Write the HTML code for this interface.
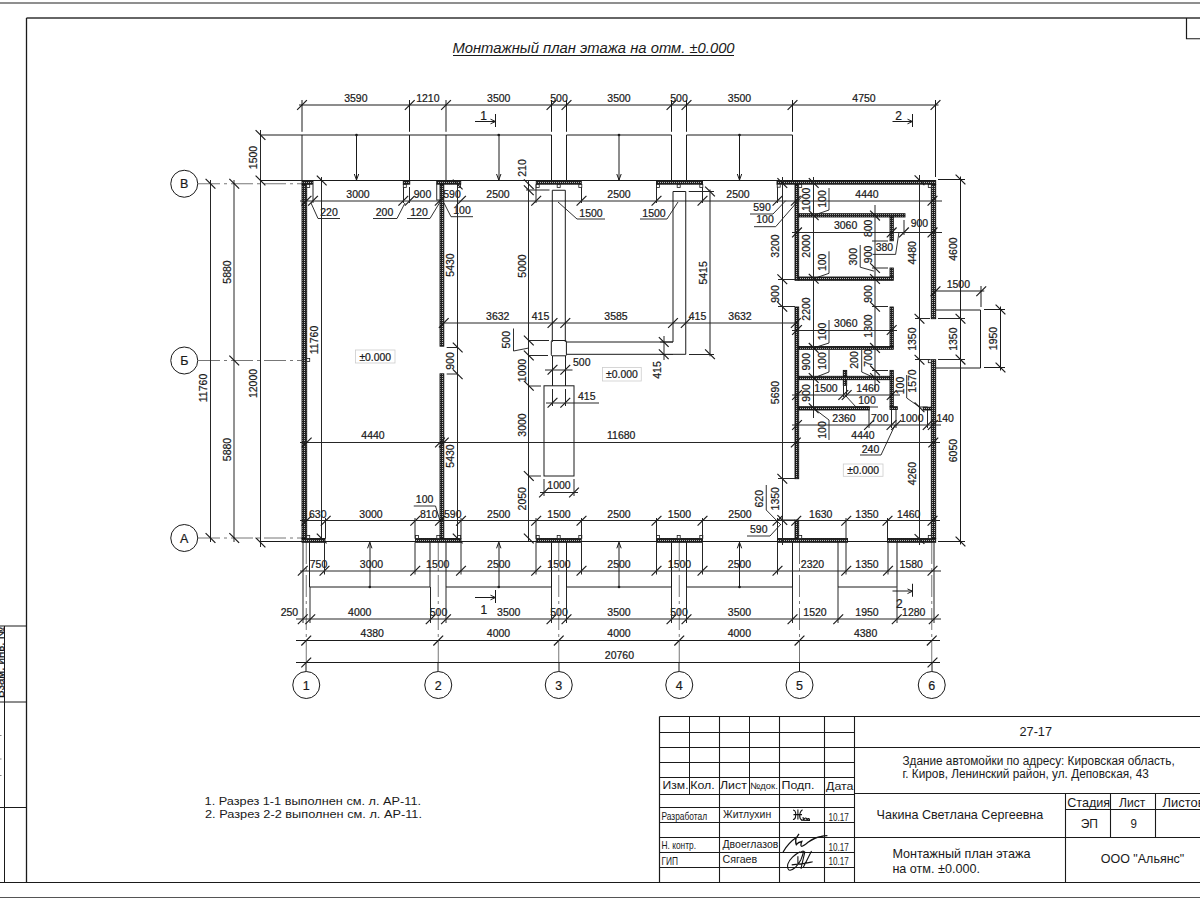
<!DOCTYPE html>
<html><head><meta charset="utf-8"><style>
html,body{margin:0;padding:0;background:#fff;width:1200px;height:900px;overflow:hidden}
svg{display:block;font-family:"Liberation Sans",sans-serif}
text{stroke:#1a1a1a;stroke-width:0.22px}
</style></head><body>
<svg width="1200" height="900" viewBox="0 0 1200 900">
<defs><pattern id="h" width="2" height="2" patternUnits="userSpaceOnUse"><rect width="2" height="2" fill="#222"/><rect x="0" y="0" width="1" height="1" fill="#bbb"/></pattern></defs>
<rect width="1200" height="900" fill="#fff"/>
<line x1="0" y1="3.0" x2="1200" y2="3.0" stroke="#6a6a6a" stroke-width="1.3"/>
<line x1="26.5" y1="18.0" x2="1200" y2="18.0" stroke="#333" stroke-width="1.4"/>
<line x1="26.5" y1="18" x2="26.5" y2="882.5" stroke="#1a1a1a" stroke-width="1.3"/>
<line x1="0" y1="882.5" x2="1200" y2="882.5" stroke="#1a1a1a" stroke-width="1.2"/>
<line x1="0" y1="897.5" x2="1200" y2="897.5" stroke="#555" stroke-width="1.2"/>
<polyline points="1186.5,18 1186.5,38.75 1200,38.75" fill="none" stroke="#1a1a1a" stroke-width="1.2"/>
<line x1="4.5" y1="626" x2="4.5" y2="882.5" stroke="#1a1a1a" stroke-width="1.0"/>
<line x1="0" y1="626.0" x2="26.5" y2="626.0" stroke="#1a1a1a" stroke-width="1.0"/>
<line x1="0" y1="702.0" x2="26.5" y2="702.0" stroke="#1a1a1a" stroke-width="1.0"/>
<line x1="0" y1="807.5" x2="26.5" y2="807.5" stroke="#1a1a1a" stroke-width="1.0"/>
<text x="0" y="0" font-size="10.5" fill="#111" textLength="71" lengthAdjust="spacingAndGlyphs" transform="translate(4.2,698) rotate(-90)">Взам. инв. №</text>
<line x1="0" y1="735.5" x2="1.5" y2="735.5" stroke="#888" stroke-width="1.2"/>
<line x1="0" y1="759.0" x2="1.5" y2="759.0" stroke="#888" stroke-width="1.2"/>
<line x1="0" y1="775.5" x2="1.5" y2="775.5" stroke="#888" stroke-width="1.2"/>
<text x="593.5" y="52.5" font-size="14.8" text-anchor="middle" fill="#1a1a1a" font-style="italic" style="stroke:none">Монтажный план этажа на отм. ±0.000</text>
<line x1="453" y1="55.5" x2="734" y2="55.5" stroke="#1a1a1a" stroke-width="1"/>
<circle cx="184.25" cy="183.75" r="13.5" fill="none" stroke="#1a1a1a" stroke-width="1"/>
<text x="184.25" y="188.25" font-size="12.5" text-anchor="middle" fill="#1a1a1a">В</text>
<line x1="198" y1="183.75" x2="302" y2="183.75" stroke="#777" stroke-width="1" stroke-dasharray="22,4,3,4"/>
<circle cx="184.25" cy="360.5" r="13.5" fill="none" stroke="#1a1a1a" stroke-width="1"/>
<text x="184.25" y="365.0" font-size="12.5" text-anchor="middle" fill="#1a1a1a">Б</text>
<line x1="198" y1="360.5" x2="302" y2="360.5" stroke="#777" stroke-width="1" stroke-dasharray="22,4,3,4"/>
<circle cx="184.25" cy="538" r="13.5" fill="none" stroke="#1a1a1a" stroke-width="1"/>
<text x="184.25" y="542.5" font-size="12.5" text-anchor="middle" fill="#1a1a1a">А</text>
<line x1="198" y1="538" x2="302" y2="538" stroke="#777" stroke-width="1" stroke-dasharray="22,4,3,4"/>
<circle cx="306.25" cy="685" r="13.5" fill="none" stroke="#1a1a1a" stroke-width="1"/>
<text x="306.25" y="689.5" font-size="12.5" text-anchor="middle" fill="#1a1a1a">1</text>
<line x1="306.0" y1="662" x2="306.0" y2="671.5" stroke="#1a1a1a" stroke-width="1.0"/>
<line x1="306.25" y1="542" x2="306.25" y2="662" stroke="#777" stroke-width="1" stroke-dasharray="22,4,3,4"/>
<circle cx="438.25" cy="685" r="13.5" fill="none" stroke="#1a1a1a" stroke-width="1"/>
<text x="438.25" y="689.5" font-size="12.5" text-anchor="middle" fill="#1a1a1a">2</text>
<line x1="438.0" y1="662" x2="438.0" y2="671.5" stroke="#1a1a1a" stroke-width="1.0"/>
<line x1="438.25" y1="542" x2="438.25" y2="662" stroke="#777" stroke-width="1" stroke-dasharray="22,4,3,4"/>
<circle cx="558.75" cy="685" r="13.5" fill="none" stroke="#1a1a1a" stroke-width="1"/>
<text x="558.75" y="689.5" font-size="12.5" text-anchor="middle" fill="#1a1a1a">3</text>
<line x1="559.0" y1="662" x2="559.0" y2="671.5" stroke="#1a1a1a" stroke-width="1.0"/>
<line x1="558.75" y1="542" x2="558.75" y2="662" stroke="#777" stroke-width="1" stroke-dasharray="22,4,3,4"/>
<circle cx="679.25" cy="685" r="13.5" fill="none" stroke="#1a1a1a" stroke-width="1"/>
<text x="679.25" y="689.5" font-size="12.5" text-anchor="middle" fill="#1a1a1a">4</text>
<line x1="679.0" y1="662" x2="679.0" y2="671.5" stroke="#1a1a1a" stroke-width="1.0"/>
<line x1="679.25" y1="542" x2="679.25" y2="662" stroke="#777" stroke-width="1" stroke-dasharray="22,4,3,4"/>
<circle cx="799.5" cy="685" r="13.5" fill="none" stroke="#1a1a1a" stroke-width="1"/>
<text x="799.5" y="689.5" font-size="12.5" text-anchor="middle" fill="#1a1a1a">5</text>
<line x1="799.5" y1="662" x2="799.5" y2="671.5" stroke="#1a1a1a" stroke-width="1.0"/>
<line x1="799.5" y1="542" x2="799.5" y2="662" stroke="#777" stroke-width="1" stroke-dasharray="22,4,3,4"/>
<circle cx="931.75" cy="685" r="13.5" fill="none" stroke="#1a1a1a" stroke-width="1"/>
<text x="931.75" y="689.5" font-size="12.5" text-anchor="middle" fill="#1a1a1a">6</text>
<line x1="932.0" y1="662" x2="932.0" y2="671.5" stroke="#1a1a1a" stroke-width="1.0"/>
<line x1="931.75" y1="542" x2="931.75" y2="662" stroke="#777" stroke-width="1" stroke-dasharray="22,4,3,4"/>
<rect x="302" y="180.5" width="11" height="3.6999999999999886" fill="url(#h)" stroke="#111" stroke-width="0.9"/>
<rect x="403.3" y="180.5" width="6.449999999999989" height="3.6999999999999886" fill="url(#h)" stroke="#111" stroke-width="0.9"/>
<rect x="436.75" y="180.5" width="24.0" height="3.6999999999999886" fill="url(#h)" stroke="#111" stroke-width="0.9"/>
<rect x="536.25" y="180.5" width="45.0" height="3.6999999999999886" fill="url(#h)" stroke="#111" stroke-width="0.9"/>
<rect x="656.5" y="180.5" width="46.0" height="3.6999999999999886" fill="url(#h)" stroke="#111" stroke-width="0.9"/>
<rect x="777" y="180.5" width="158.70000000000005" height="3.6999999999999886" fill="url(#h)" stroke="#111" stroke-width="0.9"/>
<rect x="302" y="538.5" width="23" height="3.7999999999999545" fill="url(#h)" stroke="#111" stroke-width="0.9"/>
<rect x="415.5" y="538.5" width="45.5" height="3.7999999999999545" fill="url(#h)" stroke="#111" stroke-width="0.9"/>
<rect x="536.25" y="538.5" width="45.0" height="3.7999999999999545" fill="url(#h)" stroke="#111" stroke-width="0.9"/>
<rect x="656.5" y="538.5" width="46.0" height="3.7999999999999545" fill="url(#h)" stroke="#111" stroke-width="0.9"/>
<rect x="777.5" y="538.5" width="70.0" height="3.7999999999999545" fill="url(#h)" stroke="#111" stroke-width="0.9"/>
<rect x="887.5" y="538.5" width="48.200000000000045" height="3.7999999999999545" fill="url(#h)" stroke="#111" stroke-width="0.9"/>
<rect x="302" y="184.5" width="4.699999999999989" height="354.0" fill="url(#h)" stroke="#111" stroke-width="0.9"/>
<rect x="440" y="184.5" width="3.8000000000000114" height="161.7" fill="url(#h)" stroke="#111" stroke-width="0.9"/>
<rect x="440" y="373.8" width="3.8000000000000114" height="164.7" fill="url(#h)" stroke="#111" stroke-width="0.9"/>
<rect x="795" y="184.5" width="3.7000000000000455" height="95.80000000000001" fill="url(#h)" stroke="#111" stroke-width="0.9"/>
<rect x="795" y="307" width="3.7000000000000455" height="171.7" fill="url(#h)" stroke="#111" stroke-width="0.9"/>
<rect x="795" y="520" width="3.7000000000000455" height="18.5" fill="url(#h)" stroke="#111" stroke-width="0.9"/>
<rect x="931.3" y="184.5" width="4.400000000000091" height="134.2" fill="url(#h)" stroke="#111" stroke-width="0.9"/>
<rect x="931.3" y="359.7" width="4.400000000000091" height="178.8" fill="url(#h)" stroke="#111" stroke-width="0.9"/>
<rect x="798.7" y="213.7" width="106.29999999999995" height="3.3000000000000114" fill="url(#h)" stroke="#111" stroke-width="0.9"/>
<rect x="890" y="217" width="3.2999999999999545" height="23.80000000000001" fill="url(#h)" stroke="#111" stroke-width="0.9"/>
<rect x="890" y="268" width="3.2999999999999545" height="9" fill="url(#h)" stroke="#111" stroke-width="0.9"/>
<rect x="798.7" y="277" width="94.59999999999991" height="3.3000000000000114" fill="url(#h)" stroke="#111" stroke-width="0.9"/>
<rect x="890" y="307" width="3.2999999999999545" height="39.5" fill="url(#h)" stroke="#111" stroke-width="0.9"/>
<rect x="798.7" y="346.5" width="94.59999999999991" height="2.8000000000000114" fill="url(#h)" stroke="#111" stroke-width="0.9"/>
<rect x="798.7" y="376.3" width="94.59999999999991" height="3.3999999999999773" fill="url(#h)" stroke="#111" stroke-width="0.9"/>
<rect x="890" y="370.4" width="3.2999999999999545" height="36.30000000000001" fill="url(#h)" stroke="#111" stroke-width="0.9"/>
<rect x="890" y="406.7" width="7.2999999999999545" height="2.8000000000000114" fill="url(#h)" stroke="#111" stroke-width="0.9"/>
<rect x="843.3" y="370.4" width="3.400000000000091" height="5.900000000000034" fill="url(#h)" stroke="#111" stroke-width="0.9"/>
<rect x="843.3" y="379.7" width="3.400000000000091" height="5.600000000000023" fill="url(#h)" stroke="#111" stroke-width="0.9"/>
<rect x="798.7" y="406.7" width="70.59999999999991" height="3.3000000000000114" fill="url(#h)" stroke="#111" stroke-width="0.9"/>
<rect x="923.3" y="407.2" width="8.0" height="2.8000000000000114" fill="url(#h)" stroke="#111" stroke-width="0.9"/>
<line x1="302" y1="135.0" x2="551.5" y2="135.0" stroke="#1a1a1a" stroke-width="1.0"/>
<line x1="566.5" y1="135.0" x2="671.5" y2="135.0" stroke="#1a1a1a" stroke-width="1.0"/>
<line x1="686.5" y1="135.0" x2="792.5" y2="135.0" stroke="#1a1a1a" stroke-width="1.0"/>
<line x1="260" y1="180.5" x2="302" y2="180.5" stroke="#1a1a1a" stroke-width="1.0"/>
<line x1="302" y1="180.5" x2="935.7" y2="180.5" stroke="#1a1a1a" stroke-width="1.0"/>
<line x1="302.0" y1="100" x2="302.0" y2="131.8" stroke="#1a1a1a" stroke-width="1.0"/>
<line x1="302.0" y1="135" x2="302.0" y2="180.2" stroke="#1a1a1a" stroke-width="1.0"/>
<line x1="409.5" y1="100" x2="409.5" y2="131.8" stroke="#1a1a1a" stroke-width="1.0"/>
<line x1="409.5" y1="135" x2="409.5" y2="180.2" stroke="#1a1a1a" stroke-width="1.0"/>
<line x1="446.0" y1="100" x2="446.0" y2="131.8" stroke="#1a1a1a" stroke-width="1.0"/>
<line x1="446.0" y1="135" x2="446.0" y2="180.2" stroke="#1a1a1a" stroke-width="1.0"/>
<line x1="551.5" y1="100" x2="551.5" y2="131.8" stroke="#1a1a1a" stroke-width="1.0"/>
<line x1="551.5" y1="135" x2="551.5" y2="180.2" stroke="#1a1a1a" stroke-width="1.0"/>
<line x1="566.5" y1="100" x2="566.5" y2="131.8" stroke="#1a1a1a" stroke-width="1.0"/>
<line x1="566.5" y1="135" x2="566.5" y2="180.2" stroke="#1a1a1a" stroke-width="1.0"/>
<line x1="671.5" y1="100" x2="671.5" y2="131.8" stroke="#1a1a1a" stroke-width="1.0"/>
<line x1="671.5" y1="135" x2="671.5" y2="180.2" stroke="#1a1a1a" stroke-width="1.0"/>
<line x1="686.5" y1="100" x2="686.5" y2="131.8" stroke="#1a1a1a" stroke-width="1.0"/>
<line x1="686.5" y1="135" x2="686.5" y2="180.2" stroke="#1a1a1a" stroke-width="1.0"/>
<line x1="792.5" y1="100" x2="792.5" y2="131.8" stroke="#1a1a1a" stroke-width="1.0"/>
<line x1="792.5" y1="135" x2="792.5" y2="180.2" stroke="#1a1a1a" stroke-width="1.0"/>
<line x1="935.5" y1="100" x2="935.5" y2="177" stroke="#1a1a1a" stroke-width="1.0"/>
<circle cx="356.5" cy="135" r="1.3" fill="#1a1a1a"/>
<line x1="356.5" y1="135" x2="356.5" y2="180" stroke="#1a1a1a" stroke-width="1.0"/>
<polyline points="354.3,174 356.5,180 358.7,174" fill="none" stroke="#1a1a1a" stroke-width="1.0"/>
<circle cx="498.75" cy="135" r="1.3" fill="#1a1a1a"/>
<line x1="499.0" y1="135" x2="499.0" y2="180" stroke="#1a1a1a" stroke-width="1.0"/>
<polyline points="496.55,174 498.75,180 500.95,174" fill="none" stroke="#1a1a1a" stroke-width="1.0"/>
<circle cx="619" cy="135" r="1.3" fill="#1a1a1a"/>
<line x1="619.0" y1="135" x2="619.0" y2="180" stroke="#1a1a1a" stroke-width="1.0"/>
<polyline points="616.8,174 619,180 621.2,174" fill="none" stroke="#1a1a1a" stroke-width="1.0"/>
<circle cx="739.5" cy="135" r="1.3" fill="#1a1a1a"/>
<line x1="739.5" y1="135" x2="739.5" y2="180" stroke="#1a1a1a" stroke-width="1.0"/>
<polyline points="737.3,174 739.5,180 741.7,174" fill="none" stroke="#1a1a1a" stroke-width="1.0"/>
<line x1="299" y1="105.0" x2="938.5" y2="105.0" stroke="#1a1a1a" stroke-width="1.0"/>
<line x1="297.1" y1="109.9" x2="306.9" y2="100.1" stroke="#1a1a1a" stroke-width="1.2"/>
<line x1="404.85" y1="109.9" x2="414.65" y2="100.1" stroke="#1a1a1a" stroke-width="1.2"/>
<line x1="441.1" y1="109.9" x2="450.9" y2="100.1" stroke="#1a1a1a" stroke-width="1.2"/>
<line x1="546.6" y1="109.9" x2="556.4" y2="100.1" stroke="#1a1a1a" stroke-width="1.2"/>
<line x1="561.6" y1="109.9" x2="571.4" y2="100.1" stroke="#1a1a1a" stroke-width="1.2"/>
<line x1="666.6" y1="109.9" x2="676.4" y2="100.1" stroke="#1a1a1a" stroke-width="1.2"/>
<line x1="681.6" y1="109.9" x2="691.4" y2="100.1" stroke="#1a1a1a" stroke-width="1.2"/>
<line x1="787.6" y1="109.9" x2="797.4" y2="100.1" stroke="#1a1a1a" stroke-width="1.2"/>
<line x1="930.6" y1="109.9" x2="940.4" y2="100.1" stroke="#1a1a1a" stroke-width="1.2"/>
<text x="355.875" y="101.7" font-size="10.5" text-anchor="middle" fill="#1a1a1a">3590</text>
<text x="427.875" y="101.7" font-size="10.5" text-anchor="middle" fill="#1a1a1a">1210</text>
<text x="498.75" y="101.7" font-size="10.5" text-anchor="middle" fill="#1a1a1a">3500</text>
<text x="559.0" y="101.7" font-size="10.5" text-anchor="middle" fill="#1a1a1a">500</text>
<text x="619.0" y="101.7" font-size="10.5" text-anchor="middle" fill="#1a1a1a">3500</text>
<text x="679.0" y="101.7" font-size="10.5" text-anchor="middle" fill="#1a1a1a">500</text>
<text x="739.5" y="101.7" font-size="10.5" text-anchor="middle" fill="#1a1a1a">3500</text>
<text x="864.0" y="101.7" font-size="10.5" text-anchor="middle" fill="#1a1a1a">4750</text>
<line x1="260" y1="541.5" x2="935.7" y2="541.5" stroke="#1a1a1a" stroke-width="1.0"/>
<line x1="309.5" y1="587.0" x2="430" y2="587.0" stroke="#1a1a1a" stroke-width="1.0"/>
<line x1="309.5" y1="542.3" x2="309.5" y2="587" stroke="#1a1a1a" stroke-width="1.0"/>
<line x1="430.0" y1="542.3" x2="430.0" y2="587" stroke="#1a1a1a" stroke-width="1.0"/>
<line x1="446" y1="587.0" x2="551.5" y2="587.0" stroke="#1a1a1a" stroke-width="1.0"/>
<line x1="446.0" y1="542.3" x2="446.0" y2="587" stroke="#1a1a1a" stroke-width="1.0"/>
<line x1="551.5" y1="542.3" x2="551.5" y2="587" stroke="#1a1a1a" stroke-width="1.0"/>
<line x1="566.5" y1="587.0" x2="671.5" y2="587.0" stroke="#1a1a1a" stroke-width="1.0"/>
<line x1="566.5" y1="542.3" x2="566.5" y2="587" stroke="#1a1a1a" stroke-width="1.0"/>
<line x1="671.5" y1="542.3" x2="671.5" y2="587" stroke="#1a1a1a" stroke-width="1.0"/>
<line x1="686.5" y1="587.0" x2="792.5" y2="587.0" stroke="#1a1a1a" stroke-width="1.0"/>
<line x1="686.5" y1="542.3" x2="686.5" y2="587" stroke="#1a1a1a" stroke-width="1.0"/>
<line x1="792.5" y1="542.3" x2="792.5" y2="587" stroke="#1a1a1a" stroke-width="1.0"/>
<line x1="838" y1="587.0" x2="896.75" y2="587.0" stroke="#1a1a1a" stroke-width="1.0"/>
<line x1="838.0" y1="542.3" x2="838.0" y2="587" stroke="#1a1a1a" stroke-width="1.0"/>
<line x1="897.0" y1="542.3" x2="897.0" y2="587" stroke="#1a1a1a" stroke-width="1.0"/>
<circle cx="369.75" cy="587" r="1.3" fill="#1a1a1a"/>
<line x1="370.0" y1="542.3" x2="370.0" y2="587" stroke="#1a1a1a" stroke-width="1.0"/>
<polyline points="367.55,548.3 369.75,542.3 371.95,548.3" fill="none" stroke="#1a1a1a" stroke-width="1.0"/>
<circle cx="498.75" cy="587" r="1.3" fill="#1a1a1a"/>
<line x1="499.0" y1="542.3" x2="499.0" y2="587" stroke="#1a1a1a" stroke-width="1.0"/>
<polyline points="496.55,548.3 498.75,542.3 500.95,548.3" fill="none" stroke="#1a1a1a" stroke-width="1.0"/>
<circle cx="619" cy="587" r="1.3" fill="#1a1a1a"/>
<line x1="619.0" y1="542.3" x2="619.0" y2="587" stroke="#1a1a1a" stroke-width="1.0"/>
<polyline points="616.8,548.3 619,542.3 621.2,548.3" fill="none" stroke="#1a1a1a" stroke-width="1.0"/>
<circle cx="739.5" cy="587" r="1.3" fill="#1a1a1a"/>
<line x1="739.5" y1="542.3" x2="739.5" y2="587" stroke="#1a1a1a" stroke-width="1.0"/>
<polyline points="737.3,548.3 739.5,542.3 741.7,548.3" fill="none" stroke="#1a1a1a" stroke-width="1.0"/>
<line x1="210.5" y1="180" x2="210.5" y2="542" stroke="#262626" stroke-width="1.0"/>
<line x1="205.6" y1="178.85" x2="215.4" y2="188.65" stroke="#1a1a1a" stroke-width="1.2"/>
<line x1="205.6" y1="533.1" x2="215.4" y2="542.9" stroke="#1a1a1a" stroke-width="1.2"/>
<text x="0" y="0" font-size="10.5" text-anchor="middle" fill="#1a1a1a" transform="translate(207.2,388) rotate(-90)">11760</text>
<line x1="234.0" y1="180" x2="234.0" y2="542" stroke="#262626" stroke-width="1.0"/>
<line x1="229.35" y1="178.85" x2="239.15" y2="188.65" stroke="#1a1a1a" stroke-width="1.2"/>
<line x1="229.35" y1="355.6" x2="239.15" y2="365.4" stroke="#1a1a1a" stroke-width="1.2"/>
<line x1="229.35" y1="533.1" x2="239.15" y2="542.9" stroke="#1a1a1a" stroke-width="1.2"/>
<text x="0" y="0" font-size="10.5" text-anchor="middle" fill="#1a1a1a" transform="translate(230.9,272) rotate(-90)">5880</text>
<text x="0" y="0" font-size="10.5" text-anchor="middle" fill="#1a1a1a" transform="translate(230.9,449.5) rotate(-90)">5880</text>
<line x1="260.5" y1="130" x2="260.5" y2="547" stroke="#262626" stroke-width="1.0"/>
<line x1="255.6" y1="130.1" x2="265.4" y2="139.9" stroke="#1a1a1a" stroke-width="1.2"/>
<line x1="255.6" y1="175.6" x2="265.4" y2="185.4" stroke="#1a1a1a" stroke-width="1.2"/>
<line x1="255.6" y1="537.6" x2="265.4" y2="547.4" stroke="#1a1a1a" stroke-width="1.2"/>
<text x="0" y="0" font-size="10.5" text-anchor="middle" fill="#1a1a1a" transform="translate(257.2,157.5) rotate(-90)">1500</text>
<text x="0" y="0" font-size="10.5" text-anchor="middle" fill="#1a1a1a" transform="translate(257.2,383.5) rotate(-90)">12000</text>
<line x1="260" y1="135.0" x2="302" y2="135.0" stroke="#1a1a1a" stroke-width="1.0"/>
<line x1="960.5" y1="176.5" x2="960.5" y2="544.5" stroke="#1a1a1a" stroke-width="1.0"/>
<line x1="955.6" y1="174.6" x2="965.4" y2="184.4" stroke="#1a1a1a" stroke-width="1.2"/>
<line x1="955.6" y1="313.85" x2="965.4" y2="323.65" stroke="#1a1a1a" stroke-width="1.2"/>
<line x1="955.6" y1="354.70000000000005" x2="965.4" y2="364.5" stroke="#1a1a1a" stroke-width="1.2"/>
<line x1="955.6" y1="536.6" x2="965.4" y2="546.4" stroke="#1a1a1a" stroke-width="1.2"/>
<text x="0" y="0" font-size="10.5" text-anchor="middle" fill="#1a1a1a" transform="translate(957.2,249.125) rotate(-90)">4600</text>
<text x="0" y="0" font-size="10.5" text-anchor="middle" fill="#1a1a1a" transform="translate(957.2,339.175) rotate(-90)">1350</text>
<text x="0" y="0" font-size="10.5" text-anchor="middle" fill="#1a1a1a" transform="translate(957.2,450.55) rotate(-90)">6050</text>
<line x1="938" y1="179.5" x2="965" y2="179.5" stroke="#1a1a1a" stroke-width="1.0"/>
<line x1="938" y1="541.5" x2="965" y2="541.5" stroke="#1a1a1a" stroke-width="1.0"/>
<line x1="1000.5" y1="306.5" x2="1000.5" y2="370.5" stroke="#1a1a1a" stroke-width="1.0"/>
<line x1="995.6" y1="304.6" x2="1005.4" y2="314.4" stroke="#1a1a1a" stroke-width="1.2"/>
<line x1="995.6" y1="362.6" x2="1005.4" y2="372.4" stroke="#1a1a1a" stroke-width="1.2"/>
<text x="0" y="0" font-size="10.5" text-anchor="middle" fill="#1a1a1a" transform="translate(997.2,338.5) rotate(-90)">1950</text>
<line x1="984" y1="309.5" x2="1005" y2="309.5" stroke="#1a1a1a" stroke-width="1.0"/>
<line x1="984" y1="367.5" x2="1005" y2="367.5" stroke="#1a1a1a" stroke-width="1.0"/>
<line x1="932.5" y1="291.0" x2="984.25" y2="291.0" stroke="#1a1a1a" stroke-width="1.0"/>
<line x1="930.6" y1="296.15" x2="940.4" y2="286.35" stroke="#1a1a1a" stroke-width="1.2"/>
<line x1="976.35" y1="296.15" x2="986.15" y2="286.35" stroke="#1a1a1a" stroke-width="1.2"/>
<text x="958.375" y="287.95" font-size="10.5" text-anchor="middle" fill="#1a1a1a">1500</text>
<line x1="981.0" y1="286" x2="981.0" y2="307" stroke="#1a1a1a" stroke-width="1.0"/>
<polyline points="935.7,310 980.5,310 980.5,368 935.7,368" fill="none" stroke="#1a1a1a" stroke-width="1.0"/>
<line x1="300" y1="201.0" x2="942" y2="201.0" stroke="#262626" stroke-width="1.0"/>
<line x1="301.6" y1="205.65" x2="311.4" y2="195.85" stroke="#1a1a1a" stroke-width="1.2"/>
<line x1="308.1" y1="205.65" x2="317.9" y2="195.85" stroke="#1a1a1a" stroke-width="1.2"/>
<line x1="398.40000000000003" y1="205.65" x2="408.2" y2="195.85" stroke="#1a1a1a" stroke-width="1.2"/>
<line x1="404.85" y1="205.65" x2="414.65" y2="195.85" stroke="#1a1a1a" stroke-width="1.2"/>
<line x1="434.85" y1="205.65" x2="444.65" y2="195.85" stroke="#1a1a1a" stroke-width="1.2"/>
<line x1="456.1" y1="205.65" x2="465.9" y2="195.85" stroke="#1a1a1a" stroke-width="1.2"/>
<line x1="531.3000000000001" y1="205.65" x2="541.1" y2="195.85" stroke="#1a1a1a" stroke-width="1.2"/>
<line x1="576.6" y1="205.65" x2="586.4" y2="195.85" stroke="#1a1a1a" stroke-width="1.2"/>
<line x1="651.6" y1="205.65" x2="661.4" y2="195.85" stroke="#1a1a1a" stroke-width="1.2"/>
<line x1="697.6" y1="205.65" x2="707.4" y2="195.85" stroke="#1a1a1a" stroke-width="1.2"/>
<line x1="772.6" y1="205.65" x2="782.4" y2="195.85" stroke="#1a1a1a" stroke-width="1.2"/>
<line x1="790.9" y1="205.65" x2="800.6999999999999" y2="195.85" stroke="#1a1a1a" stroke-width="1.2"/>
<line x1="927.6" y1="205.65" x2="937.4" y2="195.85" stroke="#1a1a1a" stroke-width="1.2"/>
<text x="358" y="197.5" font-size="10.5" text-anchor="middle" fill="#1a1a1a">3000</text>
<text x="422.5" y="197.5" font-size="10.5" text-anchor="middle" fill="#1a1a1a">900</text>
<text x="452" y="197.5" font-size="10.5" text-anchor="middle" fill="#1a1a1a">590</text>
<text x="498" y="197.5" font-size="10.5" text-anchor="middle" fill="#1a1a1a">2500</text>
<text x="619" y="197.5" font-size="10.5" text-anchor="middle" fill="#1a1a1a">2500</text>
<text x="738" y="197.5" font-size="10.5" text-anchor="middle" fill="#1a1a1a">2500</text>
<text x="867" y="197.5" font-size="10.5" text-anchor="middle" fill="#1a1a1a">4440</text>
<line x1="313.0" y1="184.5" x2="313.0" y2="203" stroke="#262626" stroke-width="1.0"/>
<line x1="403.5" y1="187" x2="403.5" y2="203" stroke="#262626" stroke-width="1.0"/>
<line x1="409.5" y1="187" x2="409.5" y2="203" stroke="#262626" stroke-width="1.0"/>
<line x1="536.0" y1="184.5" x2="536.0" y2="203" stroke="#262626" stroke-width="1.0"/>
<line x1="581.5" y1="187" x2="581.5" y2="203" stroke="#262626" stroke-width="1.0"/>
<line x1="656.5" y1="184.5" x2="656.5" y2="203" stroke="#262626" stroke-width="1.0"/>
<line x1="702.5" y1="187" x2="702.5" y2="203" stroke="#262626" stroke-width="1.0"/>
<line x1="777.5" y1="184.5" x2="777.5" y2="203" stroke="#262626" stroke-width="1.0"/>
<rect x="306.7" y="184.5" width="3.0" height="3.0" fill="#fff" stroke="#1a1a1a" stroke-width="0.8"/>
<rect x="403.3" y="184.5" width="3.0" height="3.0" fill="#fff" stroke="#1a1a1a" stroke-width="0.8"/>
<rect x="457.6" y="184.5" width="3.0" height="3.0" fill="#fff" stroke="#1a1a1a" stroke-width="0.8"/>
<rect x="536.2" y="184.5" width="3.0" height="3.0" fill="#fff" stroke="#1a1a1a" stroke-width="0.8"/>
<rect x="578.8" y="184.5" width="3.0" height="3.0" fill="#fff" stroke="#1a1a1a" stroke-width="0.8"/>
<rect x="557.2" y="184.5" width="3.0" height="3.0" fill="#fff" stroke="#1a1a1a" stroke-width="0.8"/>
<rect x="656.5" y="184.5" width="3.0" height="3.0" fill="#fff" stroke="#1a1a1a" stroke-width="0.8"/>
<rect x="699.8" y="184.5" width="3.0" height="3.0" fill="#fff" stroke="#1a1a1a" stroke-width="0.8"/>
<rect x="677.2" y="184.5" width="3.0" height="3.0" fill="#fff" stroke="#1a1a1a" stroke-width="0.8"/>
<rect x="798.7" y="184.5" width="3.0" height="3.0" fill="#fff" stroke="#1a1a1a" stroke-width="0.8"/>
<rect x="928.3" y="184.5" width="3.0" height="3.0" fill="#fff" stroke="#1a1a1a" stroke-width="0.8"/>
<rect x="306.7" y="358.5" width="3.0" height="3.0" fill="#fff" stroke="#1a1a1a" stroke-width="0.8"/>
<rect x="777.2" y="184.2" width="3.0" height="3.0" fill="#fff" stroke="#1a1a1a" stroke-width="0.8"/>
<rect x="306.7" y="535.5" width="3.0" height="3.0" fill="#fff" stroke="#1a1a1a" stroke-width="0.8"/>
<rect x="415.5" y="535.5" width="3.0" height="3.0" fill="#fff" stroke="#1a1a1a" stroke-width="0.8"/>
<rect x="436.8" y="535.5" width="3.0" height="3.0" fill="#fff" stroke="#1a1a1a" stroke-width="0.8"/>
<rect x="457.6" y="535.5" width="3.0" height="3.0" fill="#fff" stroke="#1a1a1a" stroke-width="0.8"/>
<rect x="536.2" y="535.5" width="3.0" height="3.0" fill="#fff" stroke="#1a1a1a" stroke-width="0.8"/>
<rect x="578.8" y="535.5" width="3.0" height="3.0" fill="#fff" stroke="#1a1a1a" stroke-width="0.8"/>
<rect x="557.2" y="535.5" width="3.0" height="3.0" fill="#fff" stroke="#1a1a1a" stroke-width="0.8"/>
<rect x="656.5" y="535.5" width="3.0" height="3.0" fill="#fff" stroke="#1a1a1a" stroke-width="0.8"/>
<rect x="699.8" y="535.5" width="3.0" height="3.0" fill="#fff" stroke="#1a1a1a" stroke-width="0.8"/>
<rect x="677.2" y="535.5" width="3.0" height="3.0" fill="#fff" stroke="#1a1a1a" stroke-width="0.8"/>
<rect x="798.7" y="535.5" width="3.0" height="3.0" fill="#fff" stroke="#1a1a1a" stroke-width="0.8"/>
<rect x="928.3" y="535.5" width="3.0" height="3.0" fill="#fff" stroke="#1a1a1a" stroke-width="0.8"/>
<rect x="928.3" y="359.7" width="3.0" height="3.0" fill="#fff" stroke="#1a1a1a" stroke-width="0.8"/>
<rect x="436.75" y="184.2" width="3.25" height="15.800000000000011" fill="#fff" stroke="#1a1a1a" stroke-width="0.9"/>
<polyline points="311,203 318,218.5 340,218.5" fill="none" stroke="#1a1a1a" stroke-width="0.9"/>
<text x="329" y="216" font-size="10.5" text-anchor="middle" fill="#1a1a1a">220</text>
<polyline points="405,203 397,218.5 373,218.5" fill="none" stroke="#1a1a1a" stroke-width="0.9"/>
<text x="384.5" y="216" font-size="10.5" text-anchor="middle" fill="#1a1a1a">200</text>
<polyline points="440,202 430,218.5 407,218.5" fill="none" stroke="#1a1a1a" stroke-width="0.9"/>
<text x="419" y="216" font-size="10.5" text-anchor="middle" fill="#1a1a1a">120</text>
<polyline points="444,203 451,216.7 473,216.7" fill="none" stroke="#1a1a1a" stroke-width="0.9"/>
<text x="462" y="213.5" font-size="10.5" text-anchor="middle" fill="#1a1a1a">100</text>
<polyline points="558,202 577,219 605,219" fill="none" stroke="#1a1a1a" stroke-width="0.9"/>
<text x="591" y="216.5" font-size="10.5" text-anchor="middle" fill="#1a1a1a">1500</text>
<polyline points="678,202 667,219 640,219" fill="none" stroke="#1a1a1a" stroke-width="0.9"/>
<text x="654" y="216.5" font-size="10.5" text-anchor="middle" fill="#1a1a1a">1500</text>
<line x1="321.5" y1="177" x2="321.5" y2="541" stroke="#262626" stroke-width="1.0"/>
<line x1="316.8" y1="175.6" x2="326.59999999999997" y2="185.4" stroke="#1a1a1a" stroke-width="1.2"/>
<line x1="316.8" y1="533.6" x2="326.59999999999997" y2="543.4" stroke="#1a1a1a" stroke-width="1.2"/>
<text x="0" y="0" font-size="10.5" text-anchor="middle" fill="#1a1a1a" transform="translate(318.4,340) rotate(-90)">11760</text>
<line x1="457.5" y1="184.5" x2="457.5" y2="541" stroke="#262626" stroke-width="1.0"/>
<line x1="452.8" y1="179.6" x2="462.59999999999997" y2="189.4" stroke="#1a1a1a" stroke-width="1.2"/>
<line x1="452.8" y1="342.6" x2="462.59999999999997" y2="352.4" stroke="#1a1a1a" stroke-width="1.2"/>
<line x1="452.8" y1="369.35" x2="462.59999999999997" y2="379.15" stroke="#1a1a1a" stroke-width="1.2"/>
<line x1="452.8" y1="533.6" x2="462.59999999999997" y2="543.4" stroke="#1a1a1a" stroke-width="1.2"/>
<text x="0" y="0" font-size="10.5" text-anchor="middle" fill="#1a1a1a" transform="translate(454.4,265) rotate(-90)">5430</text>
<text x="0" y="0" font-size="10.5" text-anchor="middle" fill="#1a1a1a" transform="translate(454.4,361) rotate(-90)">900</text>
<text x="0" y="0" font-size="10.5" text-anchor="middle" fill="#1a1a1a" transform="translate(454.4,456) rotate(-90)">5430</text>
<line x1="446.7" y1="347.5" x2="457.7" y2="347.5" stroke="#262626" stroke-width="1.0"/>
<line x1="446.7" y1="374.0" x2="457.7" y2="374.0" stroke="#262626" stroke-width="1.0"/>
<polyline points="552.3,342 552.3,190.25 565.3,190.25 565.3,342" fill="none" stroke="#1a1a1a" stroke-width="1.0"/>
<polyline points="566.4,342 673,342 673,191.5 685.75,191.5 685.75,354.3 566.4,354.3" fill="none" stroke="#1a1a1a" stroke-width="1.0"/>
<rect x="551.3" y="340.5" width="15.1" height="15.3" rx="1" fill="none" stroke="#1a1a1a" stroke-width="1"/>
<line x1="552.5" y1="355.8" x2="552.5" y2="385.8" stroke="#1a1a1a" stroke-width="1.0"/>
<line x1="565.5" y1="355.8" x2="565.5" y2="385.8" stroke="#1a1a1a" stroke-width="1.0"/>
<rect x="544" y="385.8" width="30" height="90.19999999999999" fill="none" stroke="#1a1a1a" stroke-width="1.0"/>
<line x1="528.5" y1="180" x2="528.5" y2="541" stroke="#262626" stroke-width="1.0"/>
<line x1="523.9" y1="179.29999999999998" x2="533.6999999999999" y2="189.1" stroke="#1a1a1a" stroke-width="1.2"/>
<line x1="523.9" y1="185.35" x2="533.6999999999999" y2="195.15" stroke="#1a1a1a" stroke-width="1.2"/>
<line x1="523.9" y1="335.6" x2="533.6999999999999" y2="345.4" stroke="#1a1a1a" stroke-width="1.2"/>
<line x1="523.9" y1="350.6" x2="533.6999999999999" y2="360.4" stroke="#1a1a1a" stroke-width="1.2"/>
<line x1="523.9" y1="380.90000000000003" x2="533.6999999999999" y2="390.7" stroke="#1a1a1a" stroke-width="1.2"/>
<line x1="523.9" y1="471.1" x2="533.6999999999999" y2="480.9" stroke="#1a1a1a" stroke-width="1.2"/>
<line x1="523.9" y1="533.6" x2="533.6999999999999" y2="543.4" stroke="#1a1a1a" stroke-width="1.2"/>
<line x1="526" y1="190.0" x2="549.5" y2="190.0" stroke="#262626" stroke-width="1.0"/>
<line x1="528.8" y1="340.5" x2="549" y2="340.5" stroke="#262626" stroke-width="1.0"/>
<line x1="528.8" y1="355.5" x2="548" y2="355.5" stroke="#262626" stroke-width="1.0"/>
<line x1="528.8" y1="386.0" x2="541" y2="386.0" stroke="#262626" stroke-width="1.0"/>
<line x1="528.8" y1="476.0" x2="541" y2="476.0" stroke="#262626" stroke-width="1.0"/>
<text x="0" y="0" font-size="10.5" text-anchor="middle" fill="#1a1a1a" transform="translate(525.5,168) rotate(-90)">210</text>
<text x="0" y="0" font-size="10.5" text-anchor="middle" fill="#1a1a1a" transform="translate(525.5,266) rotate(-90)">5000</text>
<text x="0" y="0" font-size="10.5" text-anchor="middle" fill="#1a1a1a" transform="translate(525.5,370.5) rotate(-90)">1000</text>
<text x="0" y="0" font-size="10.5" text-anchor="middle" fill="#1a1a1a" transform="translate(525.5,425) rotate(-90)">3000</text>
<text x="0" y="0" font-size="10.5" text-anchor="middle" fill="#1a1a1a" transform="translate(525.5,498.75) rotate(-90)">2050</text>
<polyline points="513.5,328.5 513.5,351 528.8,348" fill="none" stroke="#1a1a1a" stroke-width="0.9"/>
<text x="0" y="0" font-size="10.5" text-anchor="middle" fill="#1a1a1a" transform="translate(510.2,339.7) rotate(-90)">500</text>
<line x1="688.75" y1="191.5" x2="714" y2="191.5" stroke="#262626" stroke-width="1.0"/>
<line x1="689" y1="354.5" x2="714" y2="354.5" stroke="#262626" stroke-width="1.0"/>
<line x1="710.0" y1="189.5" x2="710.0" y2="356.3" stroke="#1a1a1a" stroke-width="1.0"/>
<line x1="705.1" y1="186.6" x2="714.9" y2="196.4" stroke="#1a1a1a" stroke-width="1.2"/>
<line x1="705.1" y1="349.40000000000003" x2="714.9" y2="359.2" stroke="#1a1a1a" stroke-width="1.2"/>
<text x="0" y="0" font-size="10.5" text-anchor="middle" fill="#1a1a1a" transform="translate(706.7,272.9) rotate(-90)">5415</text>
<line x1="660" y1="342.0" x2="673" y2="342.0" stroke="#262626" stroke-width="1.0"/>
<line x1="660" y1="354.5" x2="673" y2="354.5" stroke="#262626" stroke-width="1.0"/>
<line x1="664.0" y1="336" x2="664.0" y2="360" stroke="#262626" stroke-width="1.0"/>
<line x1="658.85" y1="337.1" x2="668.65" y2="346.9" stroke="#1a1a1a" stroke-width="1.2"/>
<line x1="658.85" y1="349.40000000000003" x2="668.65" y2="359.2" stroke="#1a1a1a" stroke-width="1.2"/>
<text x="0" y="0" font-size="10.5" text-anchor="middle" fill="#1a1a1a" transform="translate(660.5,370) rotate(-90)">415</text>
<line x1="440" y1="323.0" x2="797" y2="323.0" stroke="#262626" stroke-width="1.0"/>
<line x1="438.85" y1="327.9" x2="448.65" y2="318.1" stroke="#1a1a1a" stroke-width="1.2"/>
<line x1="547.6" y1="327.9" x2="557.4" y2="318.1" stroke="#1a1a1a" stroke-width="1.2"/>
<line x1="560.4" y1="327.9" x2="570.1999999999999" y2="318.1" stroke="#1a1a1a" stroke-width="1.2"/>
<line x1="668.1" y1="327.9" x2="677.9" y2="318.1" stroke="#1a1a1a" stroke-width="1.2"/>
<line x1="680.85" y1="327.9" x2="690.65" y2="318.1" stroke="#1a1a1a" stroke-width="1.2"/>
<line x1="790.9" y1="327.9" x2="800.6999999999999" y2="318.1" stroke="#1a1a1a" stroke-width="1.2"/>
<text x="497.75" y="319.5" font-size="10.5" text-anchor="middle" fill="#1a1a1a">3632</text>
<text x="540.5" y="319.5" font-size="10.5" text-anchor="middle" fill="#1a1a1a">415</text>
<text x="616" y="319.5" font-size="10.5" text-anchor="middle" fill="#1a1a1a">3585</text>
<text x="697.5" y="319.5" font-size="10.5" text-anchor="middle" fill="#1a1a1a">415</text>
<text x="740" y="319.5" font-size="10.5" text-anchor="middle" fill="#1a1a1a">3632</text>
<line x1="545" y1="370.0" x2="572.5" y2="370.0" stroke="#262626" stroke-width="1.0"/>
<line x1="547.6" y1="374.65" x2="557.4" y2="364.85" stroke="#1a1a1a" stroke-width="1.2"/>
<line x1="560.4" y1="374.65" x2="570.1999999999999" y2="364.85" stroke="#1a1a1a" stroke-width="1.2"/>
<text x="573" y="366" font-size="10.5" text-anchor="start" fill="#1a1a1a">500</text>
<line x1="552.5" y1="358" x2="552.5" y2="373" stroke="#262626" stroke-width="1.0"/>
<line x1="565.5" y1="358" x2="565.5" y2="373" stroke="#262626" stroke-width="1.0"/>
<line x1="546" y1="403.0" x2="599" y2="403.0" stroke="#262626" stroke-width="1.0"/>
<line x1="547.6" y1="407.65" x2="557.4" y2="397.85" stroke="#1a1a1a" stroke-width="1.2"/>
<line x1="560.4" y1="407.65" x2="570.1999999999999" y2="397.85" stroke="#1a1a1a" stroke-width="1.2"/>
<text x="578" y="399.5" font-size="10.5" text-anchor="start" fill="#1a1a1a">415</text>
<line x1="552.5" y1="389" x2="552.5" y2="406" stroke="#262626" stroke-width="1.0"/>
<line x1="565.5" y1="389" x2="565.5" y2="406" stroke="#262626" stroke-width="1.0"/>
<line x1="540" y1="492.5" x2="578" y2="492.5" stroke="#262626" stroke-width="1.0"/>
<line x1="539.1" y1="497.4" x2="548.9" y2="487.6" stroke="#1a1a1a" stroke-width="1.2"/>
<line x1="569.1" y1="497.4" x2="578.9" y2="487.6" stroke="#1a1a1a" stroke-width="1.2"/>
<text x="559" y="489" font-size="10.5" text-anchor="middle" fill="#1a1a1a">1000</text>
<line x1="544.0" y1="479" x2="544.0" y2="496" stroke="#262626" stroke-width="1.0"/>
<line x1="574.0" y1="479" x2="574.0" y2="496" stroke="#262626" stroke-width="1.0"/>
<line x1="300" y1="442.5" x2="940" y2="442.5" stroke="#262626" stroke-width="1.0"/>
<line x1="301.8" y1="447.4" x2="311.59999999999997" y2="437.6" stroke="#1a1a1a" stroke-width="1.2"/>
<line x1="435.1" y1="447.4" x2="444.9" y2="437.6" stroke="#1a1a1a" stroke-width="1.2"/>
<line x1="438.90000000000003" y1="447.4" x2="448.7" y2="437.6" stroke="#1a1a1a" stroke-width="1.2"/>
<line x1="790.9" y1="447.4" x2="800.6999999999999" y2="437.6" stroke="#1a1a1a" stroke-width="1.2"/>
<line x1="928.4" y1="447.4" x2="938.1999999999999" y2="437.6" stroke="#1a1a1a" stroke-width="1.2"/>
<text x="373" y="439" font-size="10.5" text-anchor="middle" fill="#1a1a1a">4440</text>
<text x="621.25" y="439" font-size="10.5" text-anchor="middle" fill="#1a1a1a">11680</text>
<rect x="355.5" y="350" width="39.5" height="13" fill="#fff" stroke="#ccc" stroke-width="0.8"/>
<text x="375.25" y="360.5" font-size="10.4" text-anchor="middle" fill="#1a1a1a">±0.000</text>
<rect x="602.5" y="367.5" width="38.75" height="13.5" fill="#fff" stroke="#ccc" stroke-width="0.8"/>
<text x="621.9" y="378" font-size="10.4" text-anchor="middle" fill="#1a1a1a">±0.000</text>
<rect x="843.3" y="464" width="39.700000000000045" height="12.300000000000011" fill="#fff" stroke="#ccc" stroke-width="0.8"/>
<text x="863.2" y="474" font-size="10.4" text-anchor="middle" fill="#1a1a1a">±0.000</text>
<polyline points="750,214 773,214 785.7,200.7" fill="none" stroke="#1a1a1a" stroke-width="0.9"/>
<text x="762" y="211.3" font-size="10.5" text-anchor="middle" fill="#1a1a1a">590</text>
<polyline points="754,226.7 775.7,226.7 802.3,196" fill="none" stroke="#1a1a1a" stroke-width="0.9"/>
<text x="765" y="223.3" font-size="10.5" text-anchor="middle" fill="#1a1a1a">100</text>
<line x1="782.5" y1="177" x2="782.5" y2="545" stroke="#262626" stroke-width="1.0"/>
<line x1="777.4" y1="178.1" x2="787.1999999999999" y2="187.9" stroke="#1a1a1a" stroke-width="1.2"/>
<line x1="777.4" y1="274.40000000000003" x2="787.1999999999999" y2="284.2" stroke="#1a1a1a" stroke-width="1.2"/>
<line x1="777.4" y1="301.8" x2="787.1999999999999" y2="311.59999999999997" stroke="#1a1a1a" stroke-width="1.2"/>
<line x1="777.4" y1="473.8" x2="787.1999999999999" y2="483.59999999999997" stroke="#1a1a1a" stroke-width="1.2"/>
<line x1="777.4" y1="515.1" x2="787.1999999999999" y2="524.9" stroke="#1a1a1a" stroke-width="1.2"/>
<line x1="778" y1="279.5" x2="795" y2="279.5" stroke="#262626" stroke-width="1.0"/>
<line x1="778" y1="306.5" x2="795" y2="306.5" stroke="#262626" stroke-width="1.0"/>
<line x1="778" y1="478.5" x2="795" y2="478.5" stroke="#262626" stroke-width="1.0"/>
<line x1="778" y1="520.0" x2="795" y2="520.0" stroke="#262626" stroke-width="1.0"/>
<text x="0" y="0" font-size="10.5" text-anchor="middle" fill="#1a1a1a" transform="translate(779,246) rotate(-90)">3200</text>
<text x="0" y="0" font-size="10.5" text-anchor="middle" fill="#1a1a1a" transform="translate(779,294) rotate(-90)">900</text>
<text x="0" y="0" font-size="10.5" text-anchor="middle" fill="#1a1a1a" transform="translate(779,392.5) rotate(-90)">5690</text>
<text x="0" y="0" font-size="10.5" text-anchor="middle" fill="#1a1a1a" transform="translate(779,498.75) rotate(-90)">1350</text>
<polyline points="766.25,485 766.25,510 781,525" fill="none" stroke="#1a1a1a" stroke-width="0.9"/>
<text x="0" y="0" font-size="10.5" text-anchor="middle" fill="#1a1a1a" transform="translate(763,498.75) rotate(-90)">620</text>
<line x1="813.5" y1="177" x2="813.5" y2="418" stroke="#262626" stroke-width="1.0"/>
<line x1="808.8000000000001" y1="178.1" x2="818.6" y2="187.9" stroke="#1a1a1a" stroke-width="1.2"/>
<line x1="808.8000000000001" y1="210.4" x2="818.6" y2="220.20000000000002" stroke="#1a1a1a" stroke-width="1.2"/>
<line x1="808.8000000000001" y1="273.8" x2="818.6" y2="283.59999999999997" stroke="#1a1a1a" stroke-width="1.2"/>
<line x1="808.8000000000001" y1="343.0" x2="818.6" y2="352.79999999999995" stroke="#1a1a1a" stroke-width="1.2"/>
<line x1="808.8000000000001" y1="373.1" x2="818.6" y2="382.9" stroke="#1a1a1a" stroke-width="1.2"/>
<line x1="808.8000000000001" y1="403.40000000000003" x2="818.6" y2="413.2" stroke="#1a1a1a" stroke-width="1.2"/>
<text x="0" y="0" font-size="10.5" text-anchor="middle" fill="#1a1a1a" transform="translate(810.4,199.3) rotate(-90)">1000</text>
<text x="0" y="0" font-size="10.5" text-anchor="middle" fill="#1a1a1a" transform="translate(810.4,246) rotate(-90)">2000</text>
<text x="0" y="0" font-size="10.5" text-anchor="middle" fill="#1a1a1a" transform="translate(810.4,309) rotate(-90)">2200</text>
<text x="0" y="0" font-size="10.5" text-anchor="middle" fill="#1a1a1a" transform="translate(810.4,361.7) rotate(-90)">900</text>
<text x="0" y="0" font-size="10.5" text-anchor="middle" fill="#1a1a1a" transform="translate(810.4,393) rotate(-90)">900</text>
<polyline points="829,188 829,210 813.7,215.3" fill="none" stroke="#1a1a1a" stroke-width="0.9"/>
<text x="0" y="0" font-size="10.5" text-anchor="middle" fill="#1a1a1a" transform="translate(825.7,199.0) rotate(-90)">100</text>
<polyline points="829,251.3 829,273.3 813.7,278.7" fill="none" stroke="#1a1a1a" stroke-width="0.9"/>
<text x="0" y="0" font-size="10.5" text-anchor="middle" fill="#1a1a1a" transform="translate(825.7,262.3) rotate(-90)">100</text>
<polyline points="829,320 829,343 813.7,347.9" fill="none" stroke="#1a1a1a" stroke-width="0.9"/>
<text x="0" y="0" font-size="10.5" text-anchor="middle" fill="#1a1a1a" transform="translate(825.7,331.5) rotate(-90)">100</text>
<polyline points="829,350 829,372 813.7,378" fill="none" stroke="#1a1a1a" stroke-width="0.9"/>
<text x="0" y="0" font-size="10.5" text-anchor="middle" fill="#1a1a1a" transform="translate(825.7,361.0) rotate(-90)">100</text>
<polyline points="829,440 829,420 813.7,408.3" fill="none" stroke="#1a1a1a" stroke-width="0.9"/>
<text x="0" y="0" font-size="10.5" text-anchor="middle" fill="#1a1a1a" transform="translate(825.7,430.0) rotate(-90)">100</text>
<line x1="875.0" y1="205" x2="875.0" y2="390" stroke="#262626" stroke-width="1.0"/>
<line x1="870.1" y1="210.7" x2="879.9" y2="220.5" stroke="#1a1a1a" stroke-width="1.2"/>
<line x1="870.1" y1="263.1" x2="879.9" y2="272.9" stroke="#1a1a1a" stroke-width="1.2"/>
<line x1="870.1" y1="274.1" x2="879.9" y2="283.9" stroke="#1a1a1a" stroke-width="1.2"/>
<line x1="870.1" y1="301.8" x2="879.9" y2="311.59999999999997" stroke="#1a1a1a" stroke-width="1.2"/>
<line x1="870.1" y1="343.0" x2="879.9" y2="352.79999999999995" stroke="#1a1a1a" stroke-width="1.2"/>
<line x1="870.1" y1="365.5" x2="879.9" y2="375.29999999999995" stroke="#1a1a1a" stroke-width="1.2"/>
<line x1="870.1" y1="373.1" x2="879.9" y2="382.9" stroke="#1a1a1a" stroke-width="1.2"/>
<line x1="872" y1="241.0" x2="888" y2="241.0" stroke="#262626" stroke-width="1.0"/>
<line x1="872" y1="268.0" x2="888" y2="268.0" stroke="#262626" stroke-width="1.0"/>
<line x1="872" y1="306.5" x2="888" y2="306.5" stroke="#262626" stroke-width="1.0"/>
<line x1="872" y1="370.5" x2="888" y2="370.5" stroke="#262626" stroke-width="1.0"/>
<text x="0" y="0" font-size="10.5" text-anchor="middle" fill="#1a1a1a" transform="translate(871.7,228.3) rotate(-90)">800</text>
<text x="0" y="0" font-size="10.5" text-anchor="middle" fill="#1a1a1a" transform="translate(871.7,254.4) rotate(-90)">900</text>
<text x="0" y="0" font-size="10.5" text-anchor="middle" fill="#1a1a1a" transform="translate(871.7,294) rotate(-90)">900</text>
<text x="0" y="0" font-size="10.5" text-anchor="middle" fill="#1a1a1a" transform="translate(871.7,326) rotate(-90)">1300</text>
<text x="0" y="0" font-size="10.5" text-anchor="middle" fill="#1a1a1a" transform="translate(871.7,358) rotate(-90)">700</text>
<polyline points="860.2,245 860.2,267.2 873.9,271.1" fill="none" stroke="#1a1a1a" stroke-width="0.9"/>
<text x="0" y="0" font-size="10.5" text-anchor="middle" fill="#1a1a1a" transform="translate(856.9,256.7) rotate(-90)">300</text>
<polyline points="861.7,350 861.7,372 875,378" fill="none" stroke="#1a1a1a" stroke-width="0.9"/>
<text x="0" y="0" font-size="10.5" text-anchor="middle" fill="#1a1a1a" transform="translate(858.4,360) rotate(-90)">200</text>
<line x1="919.5" y1="175" x2="919.5" y2="545" stroke="#262626" stroke-width="1.0"/>
<line x1="914.6" y1="175.29999999999998" x2="924.4" y2="185.1" stroke="#1a1a1a" stroke-width="1.2"/>
<line x1="914.6" y1="313.8" x2="924.4" y2="323.59999999999997" stroke="#1a1a1a" stroke-width="1.2"/>
<line x1="914.6" y1="354.8" x2="924.4" y2="364.59999999999997" stroke="#1a1a1a" stroke-width="1.2"/>
<line x1="914.6" y1="402.3" x2="924.4" y2="412.09999999999997" stroke="#1a1a1a" stroke-width="1.2"/>
<line x1="914.6" y1="534.1" x2="924.4" y2="543.9" stroke="#1a1a1a" stroke-width="1.2"/>
<line x1="915" y1="318.5" x2="930" y2="318.5" stroke="#262626" stroke-width="1.0"/>
<line x1="938" y1="318.5" x2="965" y2="318.5" stroke="#262626" stroke-width="1.0"/>
<line x1="915" y1="359.5" x2="930" y2="359.5" stroke="#262626" stroke-width="1.0"/>
<line x1="938" y1="359.5" x2="965" y2="359.5" stroke="#262626" stroke-width="1.0"/>
<text x="0" y="0" font-size="10.5" text-anchor="middle" fill="#1a1a1a" transform="translate(916.2,252.8) rotate(-90)">4480</text>
<text x="0" y="0" font-size="10.5" text-anchor="middle" fill="#1a1a1a" transform="translate(916.2,339.2) rotate(-90)">1350</text>
<text x="0" y="0" font-size="10.5" text-anchor="middle" fill="#1a1a1a" transform="translate(916.2,473.7) rotate(-90)">4260</text>
<polyline points="906.7,375 906.7,398 919.5,407" fill="none" stroke="#1a1a1a" stroke-width="0.9"/>
<text x="0" y="0" font-size="10.5" text-anchor="middle" fill="#1a1a1a" transform="translate(916.4,381) rotate(-90)">1570</text>
<text x="0" y="0" font-size="10.5" text-anchor="middle" fill="#1a1a1a" transform="translate(904,385.5) rotate(-90)">100</text>
<line x1="792" y1="232.5" x2="942" y2="232.5" stroke="#262626" stroke-width="1.0"/>
<line x1="792.1" y1="237.3" x2="801.9" y2="227.5" stroke="#1a1a1a" stroke-width="1.2"/>
<line x1="886.8000000000001" y1="237.3" x2="896.6" y2="227.5" stroke="#1a1a1a" stroke-width="1.2"/>
<line x1="899.0" y1="237.3" x2="908.8" y2="227.5" stroke="#1a1a1a" stroke-width="1.2"/>
<line x1="927.6" y1="237.3" x2="937.4" y2="227.5" stroke="#1a1a1a" stroke-width="1.2"/>
<line x1="904.0" y1="220" x2="904.0" y2="235" stroke="#262626" stroke-width="1.0"/>
<text x="845.6" y="228.9" font-size="10.5" text-anchor="middle" fill="#1a1a1a">3060</text>
<text x="919.4" y="227.2" font-size="10.5" text-anchor="middle" fill="#1a1a1a">900</text>
<polyline points="872.8,254.4 895.6,254.4 898.9,232.8" fill="none" stroke="#1a1a1a" stroke-width="0.9"/>
<text x="884.4" y="251.3" font-size="10.5" text-anchor="middle" fill="#1a1a1a">380</text>
<line x1="792" y1="330.5" x2="897" y2="330.5" stroke="#262626" stroke-width="1.0"/>
<line x1="792.1" y1="334.9" x2="801.9" y2="325.1" stroke="#1a1a1a" stroke-width="1.2"/>
<line x1="886.8000000000001" y1="334.9" x2="896.6" y2="325.1" stroke="#1a1a1a" stroke-width="1.2"/>
<text x="845.8" y="326.7" font-size="10.5" text-anchor="middle" fill="#1a1a1a">3060</text>
<line x1="792" y1="395.0" x2="900" y2="395.0" stroke="#262626" stroke-width="1.0"/>
<line x1="792.1" y1="399.9" x2="801.9" y2="390.1" stroke="#1a1a1a" stroke-width="1.2"/>
<line x1="838.4" y1="399.9" x2="848.1999999999999" y2="390.1" stroke="#1a1a1a" stroke-width="1.2"/>
<line x1="841.8000000000001" y1="399.9" x2="851.6" y2="390.1" stroke="#1a1a1a" stroke-width="1.2"/>
<line x1="886.8000000000001" y1="399.9" x2="896.6" y2="390.1" stroke="#1a1a1a" stroke-width="1.2"/>
<text x="826" y="392" font-size="10.5" text-anchor="middle" fill="#1a1a1a">1500</text>
<text x="868" y="392" font-size="10.5" text-anchor="middle" fill="#1a1a1a">1460</text>
<polyline points="845,395 856,407 878,407" fill="none" stroke="#1a1a1a" stroke-width="0.9"/>
<text x="867" y="404" font-size="10.5" text-anchor="middle" fill="#1a1a1a">100</text>
<line x1="843.5" y1="385.3" x2="843.5" y2="397" stroke="#262626" stroke-width="1.0"/>
<line x1="846.5" y1="385.3" x2="846.5" y2="397" stroke="#262626" stroke-width="1.0"/>
<line x1="792" y1="425.0" x2="941" y2="425.0" stroke="#262626" stroke-width="1.0"/>
<line x1="792.1" y1="429.9" x2="801.9" y2="420.1" stroke="#1a1a1a" stroke-width="1.2"/>
<line x1="864.1" y1="429.9" x2="873.9" y2="420.1" stroke="#1a1a1a" stroke-width="1.2"/>
<line x1="886.6" y1="429.9" x2="896.4" y2="420.1" stroke="#1a1a1a" stroke-width="1.2"/>
<line x1="891.3000000000001" y1="429.9" x2="901.1" y2="420.1" stroke="#1a1a1a" stroke-width="1.2"/>
<line x1="922.8000000000001" y1="429.9" x2="932.6" y2="420.1" stroke="#1a1a1a" stroke-width="1.2"/>
<line x1="927.9" y1="429.9" x2="937.6999999999999" y2="420.1" stroke="#1a1a1a" stroke-width="1.2"/>
<line x1="869.0" y1="410" x2="869.0" y2="428" stroke="#262626" stroke-width="1.0"/>
<line x1="891.5" y1="410" x2="891.5" y2="428" stroke="#262626" stroke-width="1.0"/>
<line x1="896.0" y1="410" x2="896.0" y2="428" stroke="#262626" stroke-width="1.0"/>
<line x1="927.5" y1="410" x2="927.5" y2="428" stroke="#262626" stroke-width="1.0"/>
<text x="844" y="421.5" font-size="10.5" text-anchor="middle" fill="#1a1a1a">2360</text>
<text x="879.8" y="421.5" font-size="10.5" text-anchor="middle" fill="#1a1a1a">700</text>
<text x="911.8" y="421.5" font-size="10.5" text-anchor="middle" fill="#1a1a1a">1000</text>
<text x="945.2" y="421.5" font-size="10.5" text-anchor="middle" fill="#1a1a1a">140</text>
<polyline points="860,455 881,455 895,425" fill="none" stroke="#1a1a1a" stroke-width="0.9"/>
<text x="870.5" y="452.5" font-size="10.5" text-anchor="middle" fill="#1a1a1a">240</text>
<text x="863" y="438.8" font-size="10.5" text-anchor="middle" fill="#1a1a1a">4440</text>
<line x1="919.5" y1="407.0" x2="927.7" y2="407.0" stroke="#262626" stroke-width="1.0"/>
<line x1="300" y1="520.5" x2="940" y2="520.5" stroke="#262626" stroke-width="1.0"/>
<line x1="301.6" y1="525.6" x2="311.4" y2="515.8000000000001" stroke="#1a1a1a" stroke-width="1.2"/>
<line x1="320.8" y1="525.6" x2="330.59999999999997" y2="515.8000000000001" stroke="#1a1a1a" stroke-width="1.2"/>
<line x1="410.35" y1="525.6" x2="420.15" y2="515.8000000000001" stroke="#1a1a1a" stroke-width="1.2"/>
<line x1="435.1" y1="525.6" x2="444.9" y2="515.8000000000001" stroke="#1a1a1a" stroke-width="1.2"/>
<line x1="456.1" y1="525.6" x2="465.9" y2="515.8000000000001" stroke="#1a1a1a" stroke-width="1.2"/>
<line x1="531.3000000000001" y1="525.6" x2="541.1" y2="515.8000000000001" stroke="#1a1a1a" stroke-width="1.2"/>
<line x1="576.6" y1="525.6" x2="586.4" y2="515.8000000000001" stroke="#1a1a1a" stroke-width="1.2"/>
<line x1="651.6" y1="525.6" x2="661.4" y2="515.8000000000001" stroke="#1a1a1a" stroke-width="1.2"/>
<line x1="697.6" y1="525.6" x2="707.4" y2="515.8000000000001" stroke="#1a1a1a" stroke-width="1.2"/>
<line x1="772.6" y1="525.6" x2="782.4" y2="515.8000000000001" stroke="#1a1a1a" stroke-width="1.2"/>
<line x1="791.35" y1="525.6" x2="801.15" y2="515.8000000000001" stroke="#1a1a1a" stroke-width="1.2"/>
<line x1="841.35" y1="525.6" x2="851.15" y2="515.8000000000001" stroke="#1a1a1a" stroke-width="1.2"/>
<line x1="882.6" y1="525.6" x2="892.4" y2="515.8000000000001" stroke="#1a1a1a" stroke-width="1.2"/>
<line x1="927.6" y1="525.6" x2="937.4" y2="515.8000000000001" stroke="#1a1a1a" stroke-width="1.2"/>
<text x="317.75" y="517.5" font-size="10.5" text-anchor="middle" fill="#1a1a1a">630</text>
<text x="371" y="517.5" font-size="10.5" text-anchor="middle" fill="#1a1a1a">3000</text>
<text x="428.75" y="517.5" font-size="10.5" text-anchor="middle" fill="#1a1a1a">810</text>
<text x="452.75" y="517.5" font-size="10.5" text-anchor="middle" fill="#1a1a1a">590</text>
<text x="498.75" y="517.5" font-size="10.5" text-anchor="middle" fill="#1a1a1a">2500</text>
<text x="559" y="517.5" font-size="10.5" text-anchor="middle" fill="#1a1a1a">1500</text>
<text x="619" y="517.5" font-size="10.5" text-anchor="middle" fill="#1a1a1a">2500</text>
<text x="679.5" y="517.5" font-size="10.5" text-anchor="middle" fill="#1a1a1a">1500</text>
<text x="740" y="517.5" font-size="10.5" text-anchor="middle" fill="#1a1a1a">2500</text>
<text x="820.75" y="517.5" font-size="10.5" text-anchor="middle" fill="#1a1a1a">1630</text>
<text x="867" y="517.5" font-size="10.5" text-anchor="middle" fill="#1a1a1a">1350</text>
<text x="908.75" y="517.5" font-size="10.5" text-anchor="middle" fill="#1a1a1a">1460</text>
<polyline points="413.75,506 435.5,506 440,520.7" fill="none" stroke="#1a1a1a" stroke-width="0.9"/>
<text x="424.6" y="503" font-size="10.5" text-anchor="middle" fill="#1a1a1a">100</text>
<polyline points="747,536 770,536 781,524" fill="none" stroke="#1a1a1a" stroke-width="0.9"/>
<text x="758.75" y="532.5" font-size="10.5" text-anchor="middle" fill="#1a1a1a">590</text>
<line x1="325.5" y1="518" x2="325.5" y2="538.7" stroke="#262626" stroke-width="1.0"/>
<line x1="415.0" y1="518" x2="415.0" y2="538.7" stroke="#262626" stroke-width="1.0"/>
<line x1="461.0" y1="518" x2="461.0" y2="538.7" stroke="#262626" stroke-width="1.0"/>
<line x1="536.0" y1="518" x2="536.0" y2="538.7" stroke="#262626" stroke-width="1.0"/>
<line x1="581.5" y1="518" x2="581.5" y2="538.7" stroke="#262626" stroke-width="1.0"/>
<line x1="656.5" y1="518" x2="656.5" y2="538.7" stroke="#262626" stroke-width="1.0"/>
<line x1="702.5" y1="518" x2="702.5" y2="538.7" stroke="#262626" stroke-width="1.0"/>
<line x1="777.5" y1="518" x2="777.5" y2="538.7" stroke="#262626" stroke-width="1.0"/>
<line x1="846.0" y1="518" x2="846.0" y2="538.7" stroke="#262626" stroke-width="1.0"/>
<line x1="887.5" y1="518" x2="887.5" y2="538.7" stroke="#262626" stroke-width="1.0"/>
<line x1="300" y1="571.0" x2="941" y2="571.0" stroke="#262626" stroke-width="1.0"/>
<line x1="297.85" y1="575.6999999999999" x2="307.65" y2="565.9" stroke="#1a1a1a" stroke-width="1.2"/>
<line x1="319.6" y1="575.6999999999999" x2="329.4" y2="565.9" stroke="#1a1a1a" stroke-width="1.2"/>
<line x1="410.35" y1="575.6999999999999" x2="420.15" y2="565.9" stroke="#1a1a1a" stroke-width="1.2"/>
<line x1="456.1" y1="575.6999999999999" x2="465.9" y2="565.9" stroke="#1a1a1a" stroke-width="1.2"/>
<line x1="531.3000000000001" y1="575.6999999999999" x2="541.1" y2="565.9" stroke="#1a1a1a" stroke-width="1.2"/>
<line x1="576.6" y1="575.6999999999999" x2="586.4" y2="565.9" stroke="#1a1a1a" stroke-width="1.2"/>
<line x1="651.6" y1="575.6999999999999" x2="661.4" y2="565.9" stroke="#1a1a1a" stroke-width="1.2"/>
<line x1="697.6" y1="575.6999999999999" x2="707.4" y2="565.9" stroke="#1a1a1a" stroke-width="1.2"/>
<line x1="772.6" y1="575.6999999999999" x2="782.4" y2="565.9" stroke="#1a1a1a" stroke-width="1.2"/>
<line x1="841.35" y1="575.6999999999999" x2="851.15" y2="565.9" stroke="#1a1a1a" stroke-width="1.2"/>
<line x1="883.1" y1="575.6999999999999" x2="892.9" y2="565.9" stroke="#1a1a1a" stroke-width="1.2"/>
<line x1="927.6" y1="575.6999999999999" x2="937.4" y2="565.9" stroke="#1a1a1a" stroke-width="1.2"/>
<text x="318.5" y="567.5" font-size="10.5" text-anchor="middle" fill="#1a1a1a">750</text>
<text x="371.5" y="567.5" font-size="10.5" text-anchor="middle" fill="#1a1a1a">3000</text>
<text x="437.75" y="567.5" font-size="10.5" text-anchor="middle" fill="#1a1a1a">1500</text>
<text x="498.75" y="567.5" font-size="10.5" text-anchor="middle" fill="#1a1a1a">2500</text>
<text x="559" y="567.5" font-size="10.5" text-anchor="middle" fill="#1a1a1a">1500</text>
<text x="619" y="567.5" font-size="10.5" text-anchor="middle" fill="#1a1a1a">2500</text>
<text x="679.5" y="567.5" font-size="10.5" text-anchor="middle" fill="#1a1a1a">1500</text>
<text x="739.5" y="567.5" font-size="10.5" text-anchor="middle" fill="#1a1a1a">2500</text>
<text x="812.5" y="567.5" font-size="10.5" text-anchor="middle" fill="#1a1a1a">2320</text>
<text x="867" y="567.5" font-size="10.5" text-anchor="middle" fill="#1a1a1a">1350</text>
<text x="911.25" y="567.5" font-size="10.5" text-anchor="middle" fill="#1a1a1a">1580</text>
<line x1="324.5" y1="542.3" x2="324.5" y2="574.5" stroke="#262626" stroke-width="1.0"/>
<line x1="415.0" y1="542.3" x2="415.0" y2="574.5" stroke="#262626" stroke-width="1.0"/>
<line x1="461.0" y1="542.3" x2="461.0" y2="574.5" stroke="#262626" stroke-width="1.0"/>
<line x1="536.0" y1="542.3" x2="536.0" y2="574.5" stroke="#262626" stroke-width="1.0"/>
<line x1="581.5" y1="542.3" x2="581.5" y2="574.5" stroke="#262626" stroke-width="1.0"/>
<line x1="656.5" y1="542.3" x2="656.5" y2="574.5" stroke="#262626" stroke-width="1.0"/>
<line x1="702.5" y1="542.3" x2="702.5" y2="574.5" stroke="#262626" stroke-width="1.0"/>
<line x1="777.5" y1="542.3" x2="777.5" y2="574.5" stroke="#262626" stroke-width="1.0"/>
<line x1="846.0" y1="542.3" x2="846.0" y2="574.5" stroke="#262626" stroke-width="1.0"/>
<line x1="888.0" y1="542.3" x2="888.0" y2="574.5" stroke="#262626" stroke-width="1.0"/>
<line x1="296" y1="619.0" x2="941" y2="619.0" stroke="#262626" stroke-width="1.0"/>
<line x1="297.85" y1="624.15" x2="307.65" y2="614.35" stroke="#1a1a1a" stroke-width="1.2"/>
<line x1="305.35" y1="624.15" x2="315.15" y2="614.35" stroke="#1a1a1a" stroke-width="1.2"/>
<line x1="425.8" y1="624.15" x2="435.59999999999997" y2="614.35" stroke="#1a1a1a" stroke-width="1.2"/>
<line x1="441.1" y1="624.15" x2="450.9" y2="614.35" stroke="#1a1a1a" stroke-width="1.2"/>
<line x1="546.6" y1="624.15" x2="556.4" y2="614.35" stroke="#1a1a1a" stroke-width="1.2"/>
<line x1="561.6" y1="624.15" x2="571.4" y2="614.35" stroke="#1a1a1a" stroke-width="1.2"/>
<line x1="666.6" y1="624.15" x2="676.4" y2="614.35" stroke="#1a1a1a" stroke-width="1.2"/>
<line x1="681.6" y1="624.15" x2="691.4" y2="614.35" stroke="#1a1a1a" stroke-width="1.2"/>
<line x1="787.6" y1="624.15" x2="797.4" y2="614.35" stroke="#1a1a1a" stroke-width="1.2"/>
<line x1="833.35" y1="624.15" x2="843.15" y2="614.35" stroke="#1a1a1a" stroke-width="1.2"/>
<line x1="891.85" y1="624.15" x2="901.65" y2="614.35" stroke="#1a1a1a" stroke-width="1.2"/>
<line x1="928.85" y1="624.15" x2="938.65" y2="614.35" stroke="#1a1a1a" stroke-width="1.2"/>
<text x="359.75" y="616.25" font-size="10.5" text-anchor="middle" fill="#1a1a1a">4000</text>
<text x="438.5" y="616.25" font-size="10.5" text-anchor="middle" fill="#1a1a1a">500</text>
<text x="508.75" y="616.25" font-size="10.5" text-anchor="middle" fill="#1a1a1a">3500</text>
<text x="559" y="616.25" font-size="10.5" text-anchor="middle" fill="#1a1a1a">500</text>
<text x="619" y="616.25" font-size="10.5" text-anchor="middle" fill="#1a1a1a">3500</text>
<text x="679" y="616.25" font-size="10.5" text-anchor="middle" fill="#1a1a1a">500</text>
<text x="739.5" y="616.25" font-size="10.5" text-anchor="middle" fill="#1a1a1a">3500</text>
<text x="815" y="616.25" font-size="10.5" text-anchor="middle" fill="#1a1a1a">1520</text>
<text x="867" y="616.25" font-size="10.5" text-anchor="middle" fill="#1a1a1a">1950</text>
<text x="913.75" y="616.25" font-size="10.5" text-anchor="middle" fill="#1a1a1a">1280</text>
<text x="289.4" y="616.25" font-size="10.5" text-anchor="middle" fill="#1a1a1a">250</text>
<line x1="303.0" y1="542.3" x2="303.0" y2="623" stroke="#262626" stroke-width="1.0"/>
<line x1="934.0" y1="542.3" x2="934.0" y2="623" stroke="#262626" stroke-width="1.0"/>
<line x1="310.0" y1="587" x2="310.0" y2="623" stroke="#262626" stroke-width="1.0"/>
<line x1="430.5" y1="587" x2="430.5" y2="623" stroke="#262626" stroke-width="1.0"/>
<line x1="446.0" y1="587" x2="446.0" y2="623" stroke="#262626" stroke-width="1.0"/>
<line x1="551.5" y1="587" x2="551.5" y2="623" stroke="#262626" stroke-width="1.0"/>
<line x1="566.5" y1="587" x2="566.5" y2="623" stroke="#262626" stroke-width="1.0"/>
<line x1="671.5" y1="587" x2="671.5" y2="623" stroke="#262626" stroke-width="1.0"/>
<line x1="686.5" y1="587" x2="686.5" y2="623" stroke="#262626" stroke-width="1.0"/>
<line x1="792.5" y1="587" x2="792.5" y2="623" stroke="#262626" stroke-width="1.0"/>
<line x1="838.0" y1="587" x2="838.0" y2="623" stroke="#262626" stroke-width="1.0"/>
<line x1="897.0" y1="587" x2="897.0" y2="623" stroke="#262626" stroke-width="1.0"/>
<line x1="296" y1="640.5" x2="940" y2="640.5" stroke="#1a1a1a" stroke-width="1.0"/>
<line x1="301.35" y1="645.5" x2="311.15" y2="635.7" stroke="#1a1a1a" stroke-width="1.2"/>
<line x1="433.35" y1="645.5" x2="443.15" y2="635.7" stroke="#1a1a1a" stroke-width="1.2"/>
<line x1="553.85" y1="645.5" x2="563.65" y2="635.7" stroke="#1a1a1a" stroke-width="1.2"/>
<line x1="674.35" y1="645.5" x2="684.15" y2="635.7" stroke="#1a1a1a" stroke-width="1.2"/>
<line x1="794.6" y1="645.5" x2="804.4" y2="635.7" stroke="#1a1a1a" stroke-width="1.2"/>
<line x1="926.85" y1="645.5" x2="936.65" y2="635.7" stroke="#1a1a1a" stroke-width="1.2"/>
<text x="372.25" y="637.3" font-size="10.5" text-anchor="middle" fill="#1a1a1a">4380</text>
<text x="498.5" y="637.3" font-size="10.5" text-anchor="middle" fill="#1a1a1a">4000</text>
<text x="619.0" y="637.3" font-size="10.5" text-anchor="middle" fill="#1a1a1a">4000</text>
<text x="739.375" y="637.3" font-size="10.5" text-anchor="middle" fill="#1a1a1a">4000</text>
<text x="865.625" y="637.3" font-size="10.5" text-anchor="middle" fill="#1a1a1a">4380</text>
<line x1="296" y1="662.5" x2="940" y2="662.5" stroke="#1a1a1a" stroke-width="1.0"/>
<line x1="301.35" y1="667.4" x2="311.15" y2="657.6" stroke="#1a1a1a" stroke-width="1.2"/>
<line x1="927.6" y1="667.4" x2="937.4" y2="657.6" stroke="#1a1a1a" stroke-width="1.2"/>
<text x="619.4" y="659.2" font-size="10.5" text-anchor="middle" fill="#1a1a1a">20760</text>
<line x1="475" y1="121.5" x2="495.5" y2="121.5" stroke="#1a1a1a" stroke-width="1.0"/>
<polyline points="490.5,119.2 495.5,121.5 490.5,123.8" fill="none" stroke="#1a1a1a" stroke-width="1.0"/>
<line x1="495.5" y1="114.0" x2="495.5" y2="127.0" stroke="#1a1a1a" stroke-width="1.0"/>
<text x="483.5" y="120" font-size="12" text-anchor="middle" fill="#1a1a1a">1</text>
<line x1="892.5" y1="121.5" x2="912.5" y2="121.5" stroke="#1a1a1a" stroke-width="1.0"/>
<polyline points="907.5,119.2 912.5,121.5 907.5,123.8" fill="none" stroke="#1a1a1a" stroke-width="1.0"/>
<line x1="912.5" y1="114.0" x2="912.5" y2="127.0" stroke="#1a1a1a" stroke-width="1.0"/>
<text x="898.5" y="120" font-size="12" text-anchor="middle" fill="#1a1a1a">2</text>
<line x1="475" y1="597.5" x2="495.5" y2="597.5" stroke="#1a1a1a" stroke-width="1.0"/>
<polyline points="490.5,595.2 495.5,597.5 490.5,599.8" fill="none" stroke="#1a1a1a" stroke-width="1.0"/>
<line x1="495.5" y1="590.0" x2="495.5" y2="603.0" stroke="#1a1a1a" stroke-width="1.0"/>
<text x="483.75" y="613.75" font-size="12" text-anchor="middle" fill="#1a1a1a">1</text>
<line x1="892.5" y1="591.0" x2="912.5" y2="591.0" stroke="#1a1a1a" stroke-width="1.0"/>
<polyline points="907.5,588.95 912.5,591.25 907.5,593.55" fill="none" stroke="#1a1a1a" stroke-width="1.0"/>
<line x1="912.5" y1="583.75" x2="912.5" y2="596.75" stroke="#1a1a1a" stroke-width="1.0"/>
<text x="899.25" y="607.5" font-size="12" text-anchor="middle" fill="#1a1a1a">2</text>
<text x="204.6" y="804.6" font-size="11.6" text-anchor="start" fill="#1a1a1a" style="stroke:none" textLength="216.4" lengthAdjust="spacingAndGlyphs">1. Разрез 1-1 выполнен см. л. АР-11.</text>
<text x="205" y="817.5" font-size="11.6" text-anchor="start" fill="#1a1a1a" style="stroke:none" textLength="217" lengthAdjust="spacingAndGlyphs">2. Разрез 2-2 выполнен см. л. АР-11.</text>
<line x1="659.5" y1="716.5" x2="1200" y2="716.5" stroke="#1a1a1a" stroke-width="1.2"/>
<line x1="659.5" y1="716.5" x2="659.5" y2="882.5" stroke="#1a1a1a" stroke-width="1.2"/>
<line x1="689.5" y1="716.5" x2="689.5" y2="794.5" stroke="#1a1a1a" stroke-width="1.0"/>
<line x1="749.5" y1="716.5" x2="749.5" y2="794.5" stroke="#1a1a1a" stroke-width="1.0"/>
<line x1="719.5" y1="716.5" x2="719.5" y2="882.5" stroke="#1a1a1a" stroke-width="1.1"/>
<line x1="779.5" y1="716.5" x2="779.5" y2="882.5" stroke="#1a1a1a" stroke-width="1.1"/>
<line x1="824.5" y1="716.5" x2="824.5" y2="882.5" stroke="#1a1a1a" stroke-width="1.1"/>
<line x1="854.5" y1="716.5" x2="854.5" y2="882.5" stroke="#1a1a1a" stroke-width="1.1"/>
<line x1="659.5" y1="732.5" x2="854.5" y2="732.5" stroke="#1a1a1a" stroke-width="1.0"/>
<line x1="659.5" y1="747.5" x2="854.5" y2="747.5" stroke="#1a1a1a" stroke-width="1.0"/>
<line x1="659.5" y1="762.5" x2="854.5" y2="762.5" stroke="#1a1a1a" stroke-width="1.0"/>
<line x1="659.5" y1="777.5" x2="854.5" y2="777.5" stroke="#1a1a1a" stroke-width="1.0"/>
<line x1="659.5" y1="807.5" x2="854.5" y2="807.5" stroke="#1a1a1a" stroke-width="1.0"/>
<line x1="659.5" y1="822.5" x2="854.5" y2="822.5" stroke="#1a1a1a" stroke-width="1.0"/>
<line x1="659.5" y1="837.5" x2="854.5" y2="837.5" stroke="#1a1a1a" stroke-width="1.0"/>
<line x1="659.5" y1="852.5" x2="854.5" y2="852.5" stroke="#1a1a1a" stroke-width="1.0"/>
<line x1="659.5" y1="867.5" x2="854.5" y2="867.5" stroke="#1a1a1a" stroke-width="1.0"/>
<line x1="659.5" y1="794.5" x2="854.5" y2="794.5" stroke="#1a1a1a" stroke-width="1.1"/>
<line x1="854.5" y1="747.5" x2="1200" y2="747.5" stroke="#1a1a1a" stroke-width="1.1"/>
<line x1="854.5" y1="793.5" x2="1200" y2="793.5" stroke="#1a1a1a" stroke-width="1.1"/>
<line x1="854.5" y1="837.5" x2="1200" y2="837.5" stroke="#1a1a1a" stroke-width="1.1"/>
<line x1="1065.5" y1="809.5" x2="1200" y2="809.5" stroke="#1a1a1a" stroke-width="1.0"/>
<line x1="1065.5" y1="793.5" x2="1065.5" y2="882.5" stroke="#1a1a1a" stroke-width="1.1"/>
<line x1="1110.5" y1="793.5" x2="1110.5" y2="837.5" stroke="#1a1a1a" stroke-width="1.1"/>
<line x1="1155.5" y1="793.5" x2="1155.5" y2="837.5" stroke="#1a1a1a" stroke-width="1.1"/>
<text x="662.6" y="788.8" font-size="11.8" text-anchor="start" fill="#1a1a1a" style="stroke:none" textLength="25.9" lengthAdjust="spacingAndGlyphs">Изм.</text>
<text x="690.3" y="788.8" font-size="11.8" text-anchor="start" fill="#1a1a1a" style="stroke:none" textLength="24.5" lengthAdjust="spacingAndGlyphs">Кол.</text>
<text x="720" y="788.8" font-size="11.8" text-anchor="start" fill="#1a1a1a" style="stroke:none" textLength="26.9" lengthAdjust="spacingAndGlyphs">Лист</text>
<text x="750" y="788.5" font-size="9.2" text-anchor="start" fill="#1a1a1a" style="stroke:none" textLength="27.8" lengthAdjust="spacingAndGlyphs">№док.</text>
<text x="781.5" y="788.8" font-size="11.8" text-anchor="start" fill="#1a1a1a" style="stroke:none" textLength="33" lengthAdjust="spacingAndGlyphs">Подп.</text>
<text x="826" y="789.5" font-size="11.8" text-anchor="start" fill="#1a1a1a" style="stroke:none" textLength="27.5" lengthAdjust="spacingAndGlyphs">Дата</text>
<text x="661.5" y="819.8" font-size="10.2" text-anchor="start" fill="#1a1a1a" style="stroke:none" textLength="45.6" lengthAdjust="spacingAndGlyphs">Разработал</text>
<text x="723" y="818.1" font-size="10.2" text-anchor="start" fill="#1a1a1a" style="stroke:none" textLength="48.2" lengthAdjust="spacingAndGlyphs">Житлухин</text>
<text x="828.4" y="820.6" font-size="10.2" text-anchor="start" fill="#1a1a1a" style="stroke:none" textLength="20.5" lengthAdjust="spacingAndGlyphs">10.17</text>
<text x="661.5" y="848.8" font-size="10.2" text-anchor="start" fill="#1a1a1a" style="stroke:none" textLength="34.5" lengthAdjust="spacingAndGlyphs">Н. контр.</text>
<text x="722.5" y="848" font-size="10.2" text-anchor="start" fill="#1a1a1a" style="stroke:none" textLength="55.8" lengthAdjust="spacingAndGlyphs">Двоеглазов</text>
<text x="828.4" y="850.5" font-size="10.2" text-anchor="start" fill="#1a1a1a" style="stroke:none" textLength="20.5" lengthAdjust="spacingAndGlyphs">10.17</text>
<text x="661.5" y="864.7" font-size="10.2" text-anchor="start" fill="#1a1a1a" style="stroke:none" textLength="16.5" lengthAdjust="spacingAndGlyphs">ГИП</text>
<text x="722.5" y="863.3" font-size="10.2" text-anchor="start" fill="#1a1a1a" style="stroke:none" textLength="34.7" lengthAdjust="spacingAndGlyphs">Сягаев</text>
<text x="828.4" y="865" font-size="10.2" text-anchor="start" fill="#1a1a1a" style="stroke:none" textLength="20.5" lengthAdjust="spacingAndGlyphs">10.17</text>
<text x="1035.75" y="736.4" font-size="12.8" text-anchor="middle" fill="#1a1a1a" style="stroke:none" textLength="32.5" lengthAdjust="spacingAndGlyphs">27-17</text>
<text x="902.4" y="764.6" font-size="12.0" text-anchor="start" fill="#1a1a1a" style="stroke:none" textLength="272.3" lengthAdjust="spacingAndGlyphs">Здание автомойки по адресу: Кировская область,</text>
<text x="902.4" y="778.4" font-size="12.0" text-anchor="start" fill="#1a1a1a" style="stroke:none" textLength="246.4" lengthAdjust="spacingAndGlyphs">г. Киров, Ленинский район, ул. Деповская, 43</text>
<text x="876.6" y="819.2" font-size="12.2" text-anchor="start" fill="#1a1a1a" style="stroke:none" textLength="166.7" lengthAdjust="spacingAndGlyphs">Чакина Светлана Сергеевна</text>
<text x="1067.2" y="806.8" font-size="12.2" text-anchor="start" fill="#1a1a1a" style="stroke:none" textLength="43" lengthAdjust="spacingAndGlyphs">Стадия</text>
<text x="1119" y="806.8" font-size="12.2" text-anchor="start" fill="#1a1a1a" style="stroke:none" textLength="26.4" lengthAdjust="spacingAndGlyphs">Лист</text>
<text x="1162.6" y="806.8" font-size="12.2" text-anchor="start" fill="#1a1a1a" style="stroke:none" textLength="42" lengthAdjust="spacingAndGlyphs">Листов</text>
<text x="1080.7" y="827.8" font-size="12.2" text-anchor="start" fill="#1a1a1a" style="stroke:none" textLength="17.3" lengthAdjust="spacingAndGlyphs">ЭП</text>
<text x="1130.4" y="827.8" font-size="12.2" text-anchor="start" fill="#1a1a1a" style="stroke:none" textLength="6.4" lengthAdjust="spacingAndGlyphs">9</text>
<text x="892.4" y="857.9" font-size="12.2" text-anchor="start" fill="#1a1a1a" style="stroke:none" textLength="138" lengthAdjust="spacingAndGlyphs">Монтажный план этажа</text>
<text x="892.4" y="872.5" font-size="12.2" text-anchor="start" fill="#1a1a1a" style="stroke:none" textLength="87.6" lengthAdjust="spacingAndGlyphs">на отм. ±0.000.</text>
<text x="1100.8" y="862.5" font-size="12.2" text-anchor="start" fill="#1a1a1a" style="stroke:none" textLength="83.4" lengthAdjust="spacingAndGlyphs">ООО "Альянс"</text>
<path d="M793,810 C796,810 796,814 795.5,817 C795,819 794,819.6 793,819.2 M797.9,809.5 L797.9,819.5 M802.5,809.8 C800,811 799.3,815 800,818 C800.6,819.6 801.5,820 802.3,819.6 M793.5,814.6 L802,814.6 M801,820.2 L810,820.4 M803,817 L803.5,819.8 C805,818 806.5,817 807,819.6 C808,818 809.5,818.5 809.5,820" fill="none" stroke="#111" stroke-width="1.1"/>
<path d="M783.1,852 C786,847 791,841 796.7,837.3 L799,833.8 M796.3,837 C795.5,840 795.5,843 796.3,844.7 C797.5,843 799,842 801.8,841.5 C801,843 800.5,846 801.4,846.2 C803,846.8 805,845 808,842.3 C812,839.5 817,837 821.2,836.5 C823,836 825,835.8 827.4,835.7" fill="none" stroke="#111" stroke-width="1.3"/>
<path d="M800.2,851.7 C795,854 789,860 787.8,864.1 C787,867 788,870.5 790.1,870.3 C792,870 794,868.5 795.6,867.2 C798,864.5 800,861.5 801,859.4 C802,857 803,854 803.3,852.4 M797.9,856.3 L797.9,864.1 M804.9,851.7 C803.5,858 802,864 801,868.8 M811.5,850.9 C809,856 806,862 803.3,867.2 M800.2,853 C801,850.8 804,850.5 804.9,852.5 M791.7,864.9 C794,864.5 797,864 799.4,864.1 C804,863.5 809,862.5 812.7,861.8" fill="none" stroke="#111" stroke-width="1.1"/>
</svg></body></html>
